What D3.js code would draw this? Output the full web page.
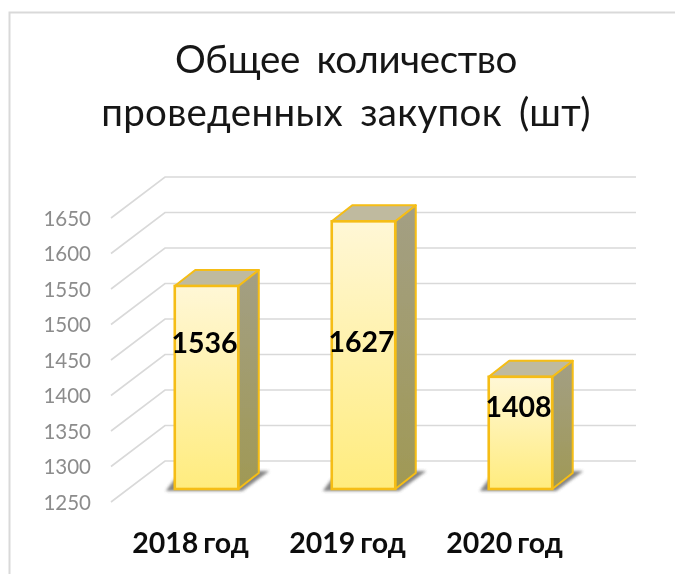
<!DOCTYPE html>
<html><head><meta charset="utf-8">
<script src="https://cdn.jsdelivr.net/npm/d3@7"></script>
<style>html,body{margin:0;padding:0;background:#fff}svg{display:block}text{font-family:Lato,"Open Sans",sans-serif}</style>
</head><body><svg id="c" width="675" height="574"></svg>
<script>
const categories = ["2018 год","2019 год","2020 год"];
const values = [1536,1627,1408];
const tickValues = [1250,1300,1350,1400,1450,1500,1550,1600,1650];
const titleLines = ["Общее количество","проведенных закупок (шт)"];

const svg = d3.select("#c");
const y = d3.scaleLinear().domain([1250,1650]).range([502,218]);
const x = d3.scaleBand().domain(categories).range([128,599]).paddingInner(0.5955).paddingOuter(0.298);
const wallDx=54, wallDy=-41, barDx=20.5, barDy=-16, barOffY=-13;
const wallW=471;
const labelDy=[67,131,40];
const titleTracking=[-0.35,0.3];

const defs=svg.append("defs");
const g1=defs.append("linearGradient").attr("id","front").attr("x1",0).attr("x2",0).attr("y1",0).attr("y2",1);
g1.append("stop").attr("offset",0).attr("stop-color","#fff7d6");
g1.append("stop").attr("offset",1).attr("stop-color","#ffec7e");
const g2=defs.append("linearGradient").attr("id","side").attr("x1",0).attr("x2",0).attr("y1",0).attr("y2",1);
g2.append("stop").attr("offset",0).attr("stop-color","#a39f84");
g2.append("stop").attr("offset",1).attr("stop-color","#a09955");
const b=defs.append("filter").attr("id","blur").attr("x","-30%").attr("y","-60%").attr("width","160%").attr("height","220%");
b.append("feGaussianBlur").attr("stdDeviation",1.8);
const soft=defs.append("filter").attr("id","soft");
soft.append("feGaussianBlur").attr("stdDeviation",0.4);

const root=svg.append("g").attr("filter","url(#soft)");
root.append("path").attr("d","M675,12.5H9.5V574").attr("stroke","#d9d9d9").attr("stroke-width",2).attr("fill","none");

const grid=root.append("g").attr("fill","none").attr("stroke","#d9d9d9").attr("stroke-width",1.6);
grid.selectAll("path").data(tickValues).join("path")
 .attr("d",d=>{const fy=y(d);return `M111,${fy}L${111+wallDx},${fy+wallDy}H${111+wallDx+wallW}`});

root.append("g").selectAll("text").data(tickValues).join("text")
 .attr("x",91).attr("y",d=>y(d)+2.5).attr("text-anchor","end").attr("dominant-baseline","middle")
 .attr("font-size",20.5).attr("fill","#8c8c8c").text(d=>d);

const bars=root.append("g").selectAll("g").data(categories).join("g");
const base=y(1250)+barOffY;
const h=v=>y(1250)-y(v);
bars.append("path").attr("fill","#666").attr("opacity",.8).attr("filter","url(#blur)")
 .attr("d",c=>{const l=x(c),r=l+x.bandwidth();return `M${l-9},${base+2}H${r+4}L${r+31},${base-18}H${r+18}L${r},${base-10}H${l}Z`});
bars.append("path").attr("fill","url(#side)").attr("stroke","#f5bd13").attr("stroke-width",2).attr("stroke-linejoin","round")
 .attr("d",(c,i)=>{const r=x(c)+x.bandwidth(),t=base-h(values[i]);return `M${r},${t}L${r+barDx},${t+barDy}V${base+barDy}L${r},${base}Z`});
bars.append("path").attr("fill","#bfba9f").attr("stroke","#f5bd13").attr("stroke-width",2).attr("stroke-linejoin","round")
 .attr("d",(c,i)=>{const l=x(c),r=l+x.bandwidth(),t=base-h(values[i]);return `M${l},${t}L${l+barDx},${t+barDy}H${r+barDx}L${r},${t}Z`});
bars.append("rect").attr("fill","url(#front)").attr("stroke","#f5bd13").attr("stroke-width",2.6)
 .attr("x",c=>x(c)).attr("width",x.bandwidth())
 .attr("y",(c,i)=>base-h(values[i])).attr("height",(c,i)=>h(values[i]));
bars.append("text").attr("x",c=>x(c)+x.bandwidth()/2-2).attr("text-anchor","middle")
 .attr("y",(c,i)=>base-h(values[i])+labelDy[i]).attr("font-size",28.5).attr("font-weight",700).attr("fill","#000")
 .text((c,i)=>values[i]);

root.append("g").selectAll("text").data(categories).join("text")
 .attr("x",c=>x(c)+x.bandwidth()/2-16).attr("y",553).attr("text-anchor","middle")
 .attr("font-size",28.5).attr("font-weight",700).attr("word-spacing",-2).attr("fill","#111").text(d=>d);

root.append("g").selectAll("text").data(titleLines).join("text")
 .attr("x",346).attr("y",(d,i)=>73+i*53).attr("text-anchor","middle")
 .attr("font-size",38.5).attr("word-spacing",7).attr("letter-spacing",(d,i)=>titleTracking[i]).attr("fill","#151515").text(d=>d);
</script></body></html>
